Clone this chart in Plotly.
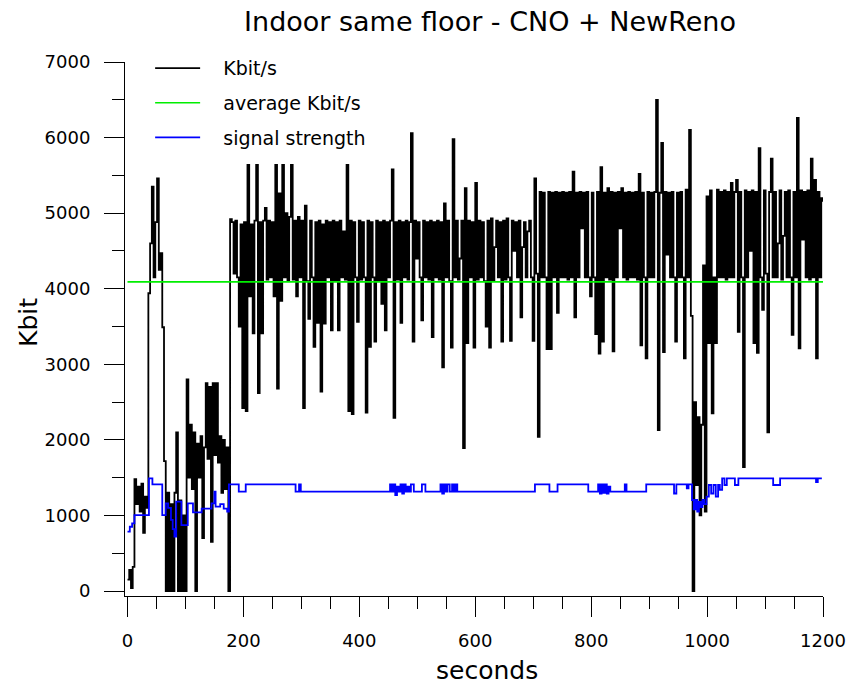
import plotly.graph_objects as go

# ---------------- data ----------------
time_step = 3  # seconds between throughput samples
kbit = [
    150, 280, 40, 320, 1480, 1150, 1380, 1050, 1420, 770,
    1250, 1100, 3940, 4600, 5350, 4150, 4880, 5460, 4250, 4470,
    3490, 1720, 0, 1300, 0, 1150, 0, 1300, 2100, 0,
    1200, 0, 1000, 0, 2800, 1500, 2200, 1350, 2100, 0,
    1950, 1500, 2050, 700, 1900, 2750, 1750, 2700, 650, 2750,
    1800, 2750, 1700, 2050, 1300, 2000, 1350, 1900, 0, 4920,
    4880, 4200, 4900, 4150, 3500, 4850, 2420, 4880, 2380, 5640,
    3900, 4850, 3410, 4900, 5640, 2620, 4880, 3410, 4900, 5070,
    4120, 4900, 4150, 4880, 3900, 5640, 2680, 5260, 3840, 5640,
    4150, 5000, 4100, 4950, 5640, 4120, 4900, 3900, 4950, 4150,
    4900, 2420, 5100, 4100, 3600, 4900, 4150, 3230, 4880, 3550,
    4900, 2640, 4850, 3540, 4900, 4150, 4880, 3450, 4900, 4100,
    4880, 3450, 4900, 4150, 4760, 4120, 5640, 2380, 4900, 2340,
    4880, 4150, 3560, 4900, 4120, 4880, 4150, 2360, 4900, 3230,
    4880, 4150, 3300, 4900, 4100, 4880, 3800, 4900, 3450, 4880,
    4150, 4900, 5580, 2290, 4880, 4120, 4900, 3550, 4880, 4150,
    4900, 4120, 4880, 6060, 3300, 4900, 4400, 4880, 4150, 3580,
    4900, 4150, 4880, 4120, 4900, 3360, 4880, 4150, 4900, 4120,
    4880, 2960, 5130, 4150, 4900, 4100, 3220, 5980, 4150, 4900,
    4120, 4400, 4900, 1890, 5330, 3280, 4900, 4150, 4880, 3220,
    5400, 4120, 4900, 4150, 4880, 4100, 3500, 4900, 3220, 4930,
    4100, 4550, 4900, 4150, 4880, 3300, 4900, 4120, 4930, 4150,
    3310, 4900, 4500, 4880, 4150, 4900, 3620, 4550, 4880, 4150,
    4760, 4900, 4150, 3310, 5460, 4200, 2040, 5280, 4150, 5270,
    4150, 3200, 5280, 3200, 5270, 4150, 5280, 3680, 5270, 4150,
    5280, 4150, 5270, 4120, 5280, 4150, 5550, 3620, 5270, 4150,
    5280, 4800, 5270, 4150, 5280, 4150, 3900, 5270, 4150, 3400,
    5280, 3140, 5610, 3300, 5270, 4150, 5330, 4120, 5280, 3170,
    5270, 4150, 5280, 4800, 5330, 4150, 5270, 4120, 5280, 4150,
    5270, 4150, 5280, 4120, 5520, 3250, 5270, 4150, 3080, 5280,
    4150, 5270, 4150, 5280, 6500, 2130, 5270, 5930, 3160, 5280,
    4450, 5270, 4150, 5280, 4150, 3300, 5270, 4150, 5280, 4150,
    3080, 5310, 4150, 6100, 3640, 0, 2500, 1400, 2300, 1000,
    2200, 4310, 1050, 5220, 3280, 5300, 2350, 4150, 3280, 5310,
    4150, 5280, 4150, 5300, 4120, 5280, 4150, 5400, 4150, 5280,
    5440, 3430, 5280, 4150, 1640, 5300, 4150, 5280, 4500, 5300,
    3280, 5280, 3150, 5860, 4150, 3720, 5300, 4200, 2100, 5280,
    5720, 4150, 5280, 4150, 4600, 5300, 4120, 4700, 5280, 4150,
    5300, 4150, 3390, 5280, 4150, 6260, 3210, 5300, 4650, 5280,
    4150, 5300, 4120, 5720, 4150, 5440, 3080, 5280, 4150, 5200,
    5150,
]
kbit_t = [i * time_step for i in range(len(kbit))]

avg_kbit = 4090
avg_t = [0, 1200]

signal_t = [0, 4, 8, 12, 37, 43, 60, 66, 70, 75, 78, 81, 84, 93, 104, 113, 128,
            145, 150, 152, 160, 166, 172, 175, 192, 204, 290, 296, 299, 453, 456,
            459, 462, 465, 468, 471, 474, 477, 480, 483, 486, 489, 494, 508, 514,
            540, 543, 546, 549, 552, 556, 560, 563, 566, 569, 703, 728, 742, 795,
            812, 815, 818, 821, 824, 827, 830, 833, 858, 861, 895, 943, 947, 965,
            968, 974, 977, 980, 983, 986, 989, 992, 995, 999, 1003, 1007, 1011,
            1015, 1019, 1022, 1026, 1030, 1034, 1048, 1054, 1114, 1126, 1188,
            1191, 1198]
signal_v = [785, 850, 895, 1005, 1491, 1411, 1005, 1160, 1100, 940, 820, 719,
            1182, 873, 1160, 1040, 1090, 1160, 1314, 1116, 1150, 1090, 1050, 1411,
            1314, 1411, 1314, 1411, 1314, 1411, 1314, 1411, 1270, 1380, 1314,
            1411, 1290, 1411, 1314, 1380, 1314, 1411, 1314, 1411, 1314, 1411,
            1290, 1411, 1314, 1411, 1314, 1411, 1314, 1411, 1314, 1411, 1314,
            1411, 1314, 1411, 1290, 1411, 1300, 1411, 1290, 1380, 1314, 1411,
            1314, 1411, 1290, 1411, 1360, 1411, 1204, 1080, 1204, 1050, 1180,
            1110, 1204, 1150, 1250, 1403, 1290, 1403, 1250, 1403, 1340, 1491,
            1403, 1491, 1403, 1491, 1403, 1491, 1440, 1491, 1491]

x_ticks = [0, 200, 400, 600, 800, 1000, 1200]
y_ticks = [0, 1000, 2000, 3000, 4000, 5000, 6000, 7000]

FONT = "DejaVu Sans"
PAD = "\u00a0\u00a0\u00a0"  # gap between legend sample line and its label

fig = go.Figure()
fig.add_trace(go.Scatter(x=kbit_t, y=kbit, mode="lines", name=PAD + "Kbit/s",
                         line=dict(color="black", width=1.8, shape="hv"),
                         legendgroup="a"))
fig.add_trace(go.Scatter(x=avg_t, y=[avg_kbit, avg_kbit], mode="lines",
                         name=PAD + "average Kbit/s",
                         line=dict(color="#00ee00", width=1.6),
                         legendgroup="b"))
fig.add_trace(go.Scatter(x=signal_t, y=signal_v, mode="lines",
                         name=PAD + "signal strength",
                         line=dict(color="#0000ff", width=1.8, shape="hv"),
                         legendgroup="c"))

fig.update_layout(
    width=851, height=684,
    margin=dict(l=125, r=28, t=62, b=88, autoexpand=False),
    paper_bgcolor="white", plot_bgcolor="white",
    font=dict(family=FONT, color="black", size=18),
    title=dict(text="Indoor same floor - CNO + NewReno",
               x=490 / 851, xref="container", xanchor="center",
               y=1 - 22 / 684, yref="container", yanchor="middle",
               font=dict(size=27, family=FONT, color="black")),
    showlegend=True,
    legend=dict(x=0.036, y=1.024, xanchor="left", yanchor="top",
                bgcolor="rgba(0,0,0,0)", borderwidth=0,
                font=dict(size=19, family=FONT, color="black"),
                tracegroupgap=7, itemwidth=45),
    annotations=[
        dict(text="seconds", xref="paper", yref="paper",
             x=(487 - 125) / 698, y=-(670 - 596) / 534,
             xanchor="center", yanchor="middle", showarrow=False,
             font=dict(size=25, family=FONT, color="black")),
        dict(text="Kbit", xref="paper", yref="paper",
             x=-(125 - 28) / 698, y=(596 - 323) / 534, textangle=-90,
             xanchor="center", yanchor="middle", showarrow=False,
             font=dict(size=25, family=FONT, color="black")),
    ],
)

fig.update_xaxes(
    range=[-4.3, 1200], tickvals=x_ticks, showgrid=False, zeroline=False,
    showline=True, linecolor="black", linewidth=1, automargin=False,
    ticks="outside", ticklen=20, tickwidth=1, tickcolor="black",
    ticklabelstandoff=8,
    minor=dict(dtick=50, ticks="outside", ticklen=12, tickwidth=1,
               tickcolor="black", showgrid=False),
    tickfont=dict(size=18, family=FONT),
)
fig.update_yaxes(
    range=[-66, 7000], tickvals=y_ticks, showgrid=False, zeroline=False,
    showline=True, linecolor="black", linewidth=1, automargin=False,
    ticks="outside", ticklen=20, tickwidth=1, tickcolor="black",
    ticklabelstandoff=10,
    minor=dict(dtick=500, ticks="outside", ticklen=12, tickwidth=1,
               tickcolor="black", showgrid=False),
    tickfont=dict(size=18, family=FONT),
)

fig.write_html("out.html")
